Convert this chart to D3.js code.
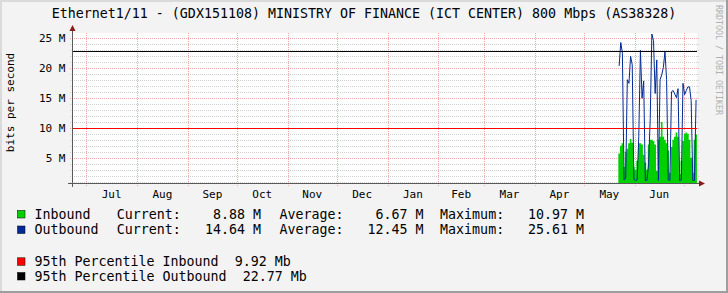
<!DOCTYPE html>
<html><head><meta charset="utf-8">
<script src="https://cdn.jsdelivr.net/npm/d3@7"></script>
<style>html,body{margin:0;padding:0;background:#F3F3F3;} svg{display:block;}</style>
</head><body>
<svg id="c" width="728" height="293"></svg>
<script>
// ---------- data ----------
const title = "Ethernet1/11 - (GDX151108) MINISTRY OF FINANCE (ICT CENTER) 800 Mbps (AS38328)";
const yAxisTitle = "bits per second";
const watermark = "RRDTOOL / TOBI OETIKER";
const monthLabels = ["Jul","Aug","Sep","Oct","Nov","Dec","Jan","Feb","Mar","Apr","May","Jun"];
const monthStarts = ["2017-07-01","2017-08-01","2017-09-01","2017-10-01","2017-11-01","2017-12-01","2018-01-01","2018-02-01","2018-03-01","2018-04-01","2018-05-01","2018-06-01","2018-07-01"];
const yTickValues = [5,10,15,20,25];            // Mbit/s
const yTickLabels = ["5 M","10 M","15 M","20 M","25 M"];
const dataStart = "2018-05-22";                  // one value per day
const inbound  = [5.7,7.0,7.4,3.5,6.0,6.5,7.4,8.1,7.5,3.5,3.0,4.5,7.4,7.4,7.2,5.5,4.2,3.0,7.2,8.0,8.0,7.8,7.2,2.8,8.0,8.5,10.97,8.5,8.0,7.4,6.2,2.5,6.8,8.0,8.5,9.2,8.5,2.3,4.5,7.8,9.0,9.2,9.0,8.0,5.0,2.5,8.0,8.88];
const outbound = [20.3,24.2,22.4,1.3,1.6,18.0,17.4,21.9,20.5,1.4,1.2,1.3,8.5,22.9,14.9,17.8,1.2,1.2,4.0,11.5,25.61,24.5,15.7,21.3,1.2,18.0,18.8,20.0,22.7,18.0,1.3,1.2,16.0,16.2,15.6,15.0,16.5,1.2,1.3,17.4,15.5,16.2,16.8,16.8,14.5,1.2,1.2,14.64];
const percentileIn = 9.92, percentileOut = 22.77;
const legendNames   = ["Inbound","Outbound"];
const legendCurrent = ["8.88 M","14.64 M"];
const legendAverage = ["6.67 M","12.45 M"];
const legendMaximum = ["10.97 M","25.61 M"];
const percentileLabels = ["95th Percentile Inbound  9.92 Mb","95th Percentile Outbound  22.77 Mb"];

// ---------- styles ----------
const C = {bg:"#F3F3F3", canvas:"#FFFFFF", inb:"#00CF00", outb:"#002A97", pIn:"#FF0000", pOut:"#000000",
           minor:"#CFCFCF", major:"#F2A8A8", axis:"#5a5a5a", arrow:"#8B1A1A", font:"#000000"};
const FONT = "'DejaVu Sans Mono', 'Liberation Mono', monospace";
const L = 72, R = 697, T = 33, B = 183.5;

const svg = d3.select("#c");
const parse = d3.utcParse("%Y-%m-%d");
const day = 86400000;

// x scale: Jul 1 2017 -> 86.3px, Jun 1 2018 -> 634.7px
const a = parse("2017-07-01"), b = parse("2018-06-01");
const pxPerMs = (634.7-86.3)/(b-a);
const x = d3.scaleUtc()
  .domain([new Date(+a - (86.3-L)/pxPerMs), new Date(+a + (R-86.3)/pxPerMs)])
  .range([L, R]);
const y = d3.scaleLinear().domain([0, 25]).range([187.7, 37.7]);

// background + frame
svg.append("rect").attr("width",728).attr("height",293).attr("fill",C.bg);
svg.append("rect").attr("x",0).attr("y",0).attr("width",728).attr("height",2).attr("fill","#DADADA");
svg.append("rect").attr("x",0).attr("y",0).attr("width",2).attr("height",293).attr("fill","#DADADA");
svg.append("rect").attr("x",0).attr("y",291).attr("width",728).attr("height",2).attr("fill","#9E9E9E");
svg.append("rect").attr("x",726).attr("y",0).attr("width",2).attr("height",293).attr("fill","#9E9E9E");

// canvas
svg.append("rect").attr("x",L).attr("y",T).attr("width",R-L).attr("height",B-T).attr("fill",C.canvas);
svg.append("clipPath").attr("id","clip").append("rect").attr("x",L).attr("y",T).attr("width",R-L).attr("height",B-T);

// minor grid
const minorVals = d3.range(1,26).filter(v => v%5 !== 0);
svg.append("g").selectAll("line").data(minorVals).join("line")
  .attr("x1",L-2).attr("x2",R+2).attr("y1",d=>Math.round(y(d))+0.5).attr("y2",d=>Math.round(y(d))+0.5)
  .attr("stroke",C.minor).attr("stroke-dasharray","1,1").attr("shape-rendering","crispEdges");
// major horizontal grid
svg.append("g").selectAll("line").data(yTickValues).join("line")
  .attr("x1",L-2).attr("x2",R+2).attr("y1",d=>Math.round(y(d))+0.5).attr("y2",d=>Math.round(y(d))+0.5)
  .attr("stroke",C.major).attr("stroke-dasharray","1,1").attr("shape-rendering","crispEdges");
// vertical month grid
const mDates = monthStarts.map(parse);
svg.append("g").selectAll("line").data(mDates).join("line")
  .attr("x1",d=>Math.round(x(d))+0.5).attr("x2",d=>Math.round(x(d))+0.5).attr("y1",T).attr("y2",B+3)
  .attr("stroke",C.major).attr("stroke-dasharray","1,1").attr("shape-rendering","crispEdges");

// data
const t0 = parse(dataStart);
const pts = inbound.map((v,i)=>({d:new Date(+t0 + i*day), i:v, o:outbound[i]}));
const ptsA = pts.concat([{d:new Date(+t0 + inbound.length*day), i:inbound[inbound.length-1]}]);
const g = svg.append("g").attr("clip-path","url(#clip)");
g.append("path").datum(ptsA)
  .attr("d", d3.area().x(p=>x(p.d)).y0(B).y1(p=>y(p.i)).curve(d3.curveStepAfter))
  .attr("fill",C.inb);
g.append("path").datum(pts)
  .attr("d", d3.line().x(p=>x(p.d)+0.8).y(p=>y(p.o)).curve(d3.curveLinear))
  .attr("fill","none").attr("stroke",C.outb).attr("stroke-width",1);

// percentile rules
[[percentileIn,C.pIn],[percentileOut,C.pOut]].forEach(([v,c])=>{
  svg.append("line").attr("x1",L).attr("x2",R).attr("y1",Math.round(y(v))+0.5).attr("y2",Math.round(y(v))+0.5)
    .attr("stroke",c).attr("stroke-width",1).attr("shape-rendering","crispEdges");
});

// axes
svg.append("line").attr("x1",L-4).attr("x2",R+3).attr("y1",B).attr("y2",B).attr("stroke",C.axis).attr("shape-rendering","crispEdges");
svg.append("line").attr("x1",L+0.5).attr("x2",L+0.5).attr("y1",T-4).attr("y2",B+3).attr("stroke",C.axis).attr("shape-rendering","crispEdges");
svg.append("path").attr("d",`M${L+0.5},25 L${L+3.5},31 L${L-2.5},31 Z`).attr("fill",C.arrow);
svg.append("path").attr("d",`M705,${B} L699,${B-3} L699,${B+3} Z`).attr("fill",C.arrow);

// y labels
svg.append("g").selectAll("text").data(yTickValues).join("text")
  .attr("x",65.5).attr("y",d=>y(d)+4).attr("text-anchor","end")
  .attr("font-family",FONT).attr("font-size",11).attr("fill",C.font)
  .text((d,i)=>yTickLabels[i]);
// x labels at mid-month
svg.append("g").selectAll("text").data(monthLabels).join("text")
  .attr("x",(d,i)=>(x(mDates[i])+x(mDates[i+1]))/2).attr("y",197.5).attr("text-anchor","middle")
  .attr("font-family",FONT).attr("font-size",11).attr("fill",C.font).text(d=>d);

// titles
svg.append("text").attr("x",364).attr("y",18).attr("text-anchor","middle")
  .attr("font-family",FONT).attr("font-size",13.3).attr("fill",C.font).text(title);
svg.append("text").attr("transform","translate(13.5,102.5) rotate(-90)").attr("text-anchor","middle")
  .attr("font-family",FONT).attr("font-size",11).attr("fill",C.font).text(yAxisTitle);
svg.append("text").attr("transform","translate(716,5) rotate(90)").attr("text-anchor","start")
  .attr("font-family",FONT).attr("font-size",8.3).attr("fill","#B0B0B0").text(watermark);

// legend
const lf = 13.3;
const legendColors = [C.inb, C.outb];
const baseY = [218.5, 234];
legendNames.forEach((n,i)=>{
  const yb = baseY[i];
  svg.append("rect").attr("x",17.5).attr("y",yb-8).attr("width",7.5).attr("height",7.5)
    .attr("fill",legendColors[i]).attr("stroke","#000").attr("stroke-width",0.5);
  const txt = (xx,s,anchor)=>svg.append("text").attr("x",xx).attr("y",yb).attr("text-anchor",anchor||"start")
    .attr("font-family",FONT).attr("font-size",lf).attr("fill",C.font).style("white-space","pre").text(s);
  txt(34.5,n);
  txt(116.7,"Current:");
  txt(261,legendCurrent[i],"end");
  txt(279.4,"Average:");
  txt(423.5,legendAverage[i],"end");
  txt(440.1,"Maximum:");
  txt(584,legendMaximum[i],"end");
});
const pColors = [C.pIn, C.pOut];
const pY = [265.8, 280.5];
percentileLabels.forEach((s,i)=>{
  svg.append("rect").attr("x",17.5).attr("y",pY[i]-8).attr("width",7.5).attr("height",7.5)
    .attr("fill",pColors[i]).attr("stroke","#000").attr("stroke-width",0.5);
  svg.append("text").attr("x",34.5).attr("y",pY[i]).attr("font-family",FONT).attr("font-size",lf)
    .attr("fill",C.font).style("white-space","pre").text(s);
});
</script>
</body></html>
